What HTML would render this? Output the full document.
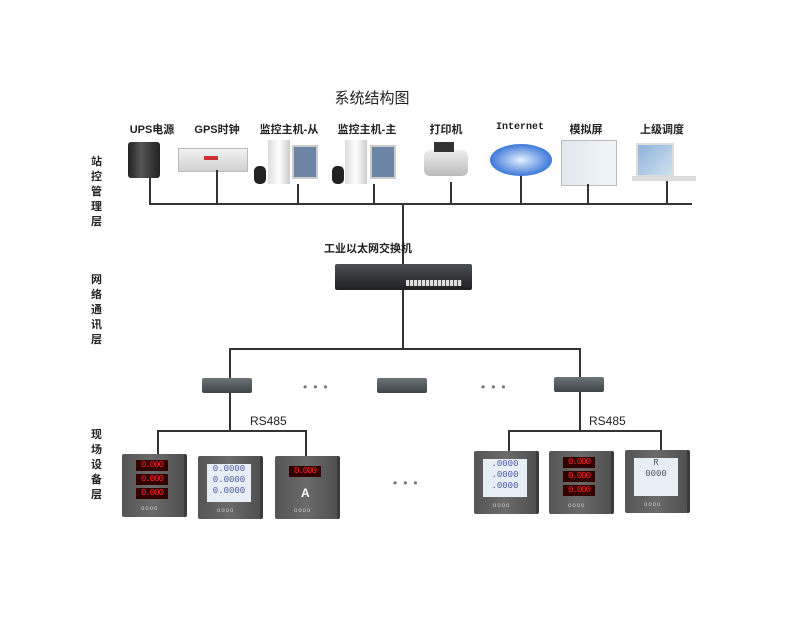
<!DOCTYPE html>
<html><head><meta charset="utf-8"><style>
body{margin:0;width:800px;height:643px;background:#fff;position:relative;overflow:hidden;font-family:"Liberation Sans","Noto Sans CJK SC",sans-serif}
.a{position:absolute}
.l{position:absolute;background:#333}
.t{position:absolute;font-size:11px;font-weight:bold;color:#222;white-space:nowrap;transform:translateX(-50%)}
.side{position:absolute;left:91px;width:14px;font-size:11px;line-height:15px;color:#222;font-weight:bold}
.m{position:absolute;width:62px;height:63px;background:linear-gradient(90deg,#555,#6a6a6a 50%,#505050);border-radius:2px;box-shadow:3px 0 0 #3a3a3a}
.led{position:absolute;left:14px;width:32px;height:11px;background:#300;color:#f22;font-size:9px;line-height:11px;font-family:"Liberation Mono",monospace;letter-spacing:-1px;text-align:center}
.lcd{position:absolute;left:9px;top:8px;width:44px;height:38px;background:#e8eef5;color:#4a5aa0;font-size:9px;line-height:11px;font-family:"Liberation Mono",monospace;text-align:center}
.btn{position:absolute;bottom:5px;left:19px;font-size:6px;color:#ccc;letter-spacing:1px}
.cv{position:absolute;width:50px;height:15px;background:linear-gradient(#6c7478,#3e4447);border-radius:2px}
.dot{position:absolute;font-size:12px;color:#777;letter-spacing:6px}
</style></head><body>
<div class="t" style="left:372px;top:87px;font-size:15px;font-weight:normal">系统结构图</div>
<div class="t" style="left:152px;top:121px">UPS电源</div>
<div class="t" style="left:217px;top:121px">GPS时钟</div>
<div class="t" style="left:289px;top:121px">监控主机-从</div>
<div class="t" style="left:367px;top:121px">监控主机-主</div>
<div class="t" style="left:446px;top:121px">打印机</div>
<div class="t" style="left:520px;top:122px;font-size:10px;font-family:'Liberation Mono',monospace">Internet</div>
<div class="t" style="left:586px;top:121px">模拟屏</div>
<div class="t" style="left:662px;top:121px">上级调度</div>

<div class="side" style="top:155px">站<br>控<br>管<br>理<br>层</div>
<div class="side" style="top:273px">网<br>络<br>通<br>讯<br>层</div>
<div class="side" style="top:428px">现<br>场<br>设<br>备<br>层</div>

<div class="a" style="left:128px;top:142px;width:32px;height:36px;background:linear-gradient(90deg,#222,#555 40%,#222);border-radius:3px"></div>
<div class="a" style="left:178px;top:148px;width:68px;height:22px;background:linear-gradient(#f2f2f2,#d0d0d0);border:1px solid #bbb"></div>
<div class="a" style="left:204px;top:156px;width:14px;height:4px;background:#c33"></div>
<div class="a" style="left:268px;top:140px;width:22px;height:44px;background:linear-gradient(90deg,#ddd,#fff,#ccc)"></div>
<div class="a" style="left:292px;top:145px;width:22px;height:30px;background:#6d86a6;border:2px solid #ccc"></div>
<div class="a" style="left:254px;top:166px;width:12px;height:18px;background:#222;border-radius:5px"></div>
<div class="a" style="left:345px;top:140px;width:22px;height:44px;background:linear-gradient(90deg,#ddd,#fff,#ccc)"></div>
<div class="a" style="left:370px;top:145px;width:22px;height:30px;background:#6d86a6;border:2px solid #ccc"></div>
<div class="a" style="left:332px;top:166px;width:12px;height:18px;background:#222;border-radius:5px"></div>
<div class="a" style="left:424px;top:150px;width:44px;height:26px;background:linear-gradient(#eee,#bbb);border-radius:6px"></div>
<div class="a" style="left:434px;top:142px;width:20px;height:10px;background:#333"></div>
<div class="a" style="left:490px;top:144px;width:62px;height:32px;background:radial-gradient(#e6f0ff,#3c79d9 70%);border-radius:50%"></div>
<div class="a" style="left:561px;top:140px;width:54px;height:44px;background:linear-gradient(90deg,#dfe8ee,#f2f5f7);border:1px solid #bbb"></div>
<div class="a" style="left:636px;top:143px;width:34px;height:30px;background:linear-gradient(135deg,#8fb3d9,#cfe0f0);border:2px solid #ddd"></div>
<div class="a" style="left:632px;top:176px;width:64px;height:5px;background:#ddd"></div>

<div class="l" style="left:149px;top:203px;width:543px;height:2px"></div>
<div class="l" style="left:149px;top:178px;width:2px;height:26px"></div>
<div class="l" style="left:216px;top:170px;width:2px;height:34px"></div>
<div class="l" style="left:297px;top:184px;width:2px;height:20px"></div>
<div class="l" style="left:373px;top:184px;width:2px;height:20px"></div>
<div class="l" style="left:450px;top:182px;width:2px;height:22px"></div>
<div class="l" style="left:520px;top:176px;width:2px;height:28px"></div>
<div class="l" style="left:587px;top:184px;width:2px;height:20px"></div>
<div class="l" style="left:666px;top:181px;width:2px;height:23px"></div>
<div class="l" style="left:402px;top:203px;width:2px;height:146px"></div>

<div class="t" style="left:368px;top:240px">工业以太网交换机</div>
<div class="a" style="left:335px;top:264px;width:137px;height:26px;background:linear-gradient(#4a4e52,#1e2022);border-radius:2px"></div>
<div class="a" style="left:406px;top:280px;width:56px;height:6px;background:repeating-linear-gradient(90deg,#ddd 0 3px,#555 3px 4px)"></div>

<div class="l" style="left:229px;top:348px;width:351px;height:2px"></div>
<div class="l" style="left:229px;top:348px;width:2px;height:82px"></div>
<div class="l" style="left:579px;top:348px;width:2px;height:82px"></div>
<div class="cv" style="left:202px;top:378px"></div>
<div class="cv" style="left:377px;top:378px"></div>
<div class="cv" style="left:554px;top:377px"></div>
<div class="dot" style="left:303px;top:380px">•••</div>
<div class="dot" style="left:481px;top:380px">•••</div>

<div class="a" style="left:250px;top:414px;font-size:12px;color:#222">RS485</div>
<div class="a" style="left:589px;top:414px;font-size:12px;color:#222">RS485</div>
<div class="l" style="left:157px;top:430px;width:150px;height:2px"></div>
<div class="l" style="left:157px;top:430px;width:2px;height:24px"></div>
<div class="l" style="left:305px;top:430px;width:2px;height:26px"></div>
<div class="l" style="left:508px;top:430px;width:154px;height:2px"></div>
<div class="l" style="left:508px;top:430px;width:2px;height:24px"></div>
<div class="l" style="left:660px;top:430px;width:2px;height:22px"></div>

<div class="m" style="left:122px;top:454px"><div class="led" style="top:6px">0.000</div><div class="led" style="top:20px">0.000</div><div class="led" style="top:34px">0.000</div><div class="btn">oooo</div></div>
<div class="m" style="left:198px;top:456px"><div class="lcd">0.0000<br>0.0000<br>0.0000</div><div class="btn">oooo</div></div>
<div class="m" style="left:275px;top:456px"><div class="led" style="top:10px">0.000</div><div class="a" style="left:26px;top:30px;color:#fff;font-weight:bold;font-size:12px">A</div><div class="btn">oooo</div></div>
<div class="dot" style="left:393px;top:476px">•••</div>
<div class="m" style="left:474px;top:451px"><div class="lcd">.0000<br>.0000<br>.0000</div><div class="btn">oooo</div></div>
<div class="m" style="left:549px;top:451px"><div class="led" style="top:6px">0.000</div><div class="led" style="top:20px">0.000</div><div class="led" style="top:34px">0.000</div><div class="btn">oooo</div></div>
<div class="m" style="left:625px;top:450px"><div class="lcd" style="color:#555">R<br>0000</div><div class="btn">oooo</div></div>
</body></html>
